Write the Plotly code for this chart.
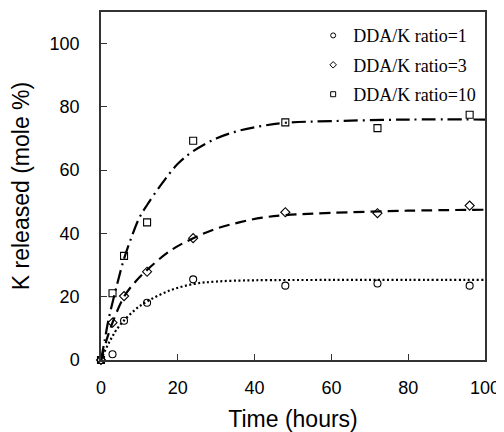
import plotly.graph_objects as go

# measured data
t_obs = [0, 3, 6, 12, 24, 48, 72, 96]
ratio1 = [0, 1.8, 12.4, 18.1, 25.5, 23.5, 24.2, 23.5]
ratio3 = [0, 11.8, 20.2, 27.9, 38.5, 46.7, 46.4, 48.8]
ratio10 = [0, 21.1, 32.9, 43.5, 69.3, 75.1, 73.3, 77.5]

# fitted curves
fit1_t = [0, 1, 2, 3, 4, 6, 9, 12, 18, 24, 30, 40, 60, 80, 100]
fit1_y = [0, 2.8, 5.3, 7.5, 9.5, 12.5, 16.0, 18.5, 22.0, 24.0, 24.8, 25.2, 25.3, 25.3, 25.3]
fit3_t = [0, 1.5, 3, 6, 9, 12, 18, 24, 30, 36, 42, 48, 60, 80, 100]
fit3_y = [0, 6.5, 11.8, 20.0, 24.8, 28.5, 34.5, 38.5, 41.5, 43.5, 45.0, 45.8, 46.5, 47.2, 47.5]
fit10_t = [0, 1, 2, 4, 6, 8, 10, 12, 16, 20, 24, 30, 36, 42, 48, 60, 80, 100]
fit10_y = [0, 6.5, 13.0, 23.0, 32.0, 39.0, 45.0, 49.0, 56.0, 62.0, 66.0, 70.0, 72.5, 74.0, 75.0, 75.5, 76.0, 76.0]

names = ["DDA/K ratio=1", "DDA/K ratio=3", "DDA/K ratio=10"]
symbols = ["circle-open", "diamond-open", "square-open"]

fig = go.Figure()

fig.add_trace(go.Scatter(x=fit1_t, y=fit1_y, mode="lines", line=dict(color="black", width=2.2, dash="2px,2.5px", shape="spline"), showlegend=False, hoverinfo="skip"))
fig.add_trace(go.Scatter(x=fit3_t, y=fit3_y, mode="lines", line=dict(color="black", width=2.2, dash="11px,6px", shape="spline"), showlegend=False, hoverinfo="skip"))
fig.add_trace(go.Scatter(x=fit10_t, y=fit10_y, mode="lines", line=dict(color="black", width=2.2, dash="14px,5px,2px,5px", shape="spline"), showlegend=False, hoverinfo="skip"))

for i, (ys, nm, sym) in enumerate(zip([ratio1, ratio3, ratio10], names, symbols)):
    fig.add_trace(go.Scatter(x=t_obs, y=ys, mode="markers", name=nm, cliponaxis=False, showlegend=False,
                             marker=dict(symbol=sym, size=7, color="black", line=dict(width=1.1, color="black"))))
    # legend entry with small marker
    fig.add_trace(go.Scatter(x=[None], y=[None], mode="markers", name=nm, legendgroup="g%d" % i,
                             marker=dict(symbol=sym, size=5, color="black", line=dict(width=1, color="black"))))

axis_common = dict(showline=True, linecolor="#333", linewidth=1.5, mirror=True, ticks="inside",
                   ticklen=6, tickcolor="#333", tickwidth=1.2, showgrid=False, zeroline=False,
                   automargin=False,
                   tickfont=dict(family="Arial, Liberation Sans", size=18, color="black"))

# page has an 8px body margin, so the figure is drawn 8px smaller
fig.update_layout(
    width=496, height=424,
    margin=dict(l=93, r=19, t=4, b=72),
    paper_bgcolor="white", plot_bgcolor="white",
    xaxis=dict(range=[0, 100], tickvals=[0, 20, 40, 60, 80, 100], ticklabelstandoff=11,
               title=dict(text="Time (hours)", font=dict(family="Arial, Liberation Sans", size=23, color="black")),
               **axis_common),
    yaxis=dict(range=[0, 110], tickvals=[0, 20, 40, 60, 80, 100], ticklabelstandoff=16,
               title=dict(text="K released (mole %)", font=dict(family="Arial, Liberation Sans", size=23, color="black")),
               **axis_common),
    legend=dict(x=0.99, y=0.985, xanchor="right", yanchor="top", bgcolor="rgba(0,0,0,0)",
                font=dict(family="Times New Roman, Liberation Serif", size=18, color="black"),
                itemwidth=30, tracegroupgap=3),
)

fig.write_html("out.html")
